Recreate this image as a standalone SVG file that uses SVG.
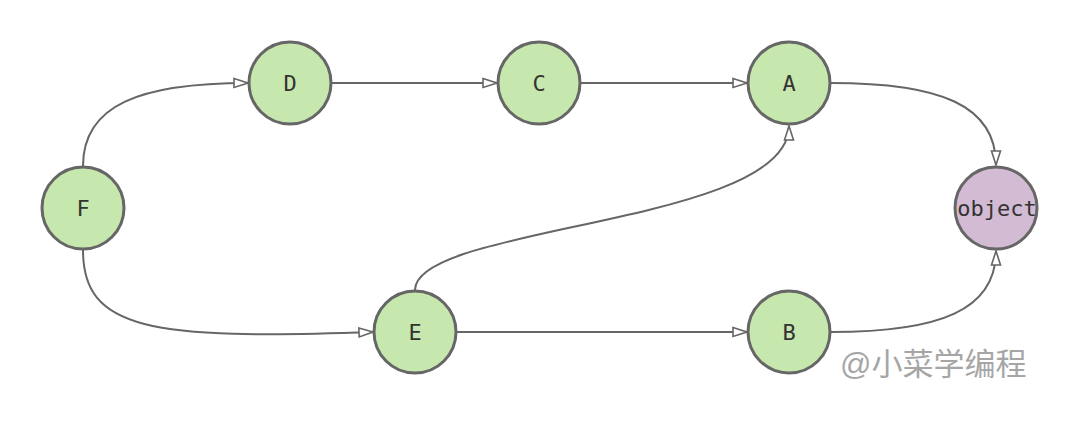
<svg xmlns="http://www.w3.org/2000/svg" width="1080" height="437" viewBox="0 0 1080 437">
<defs>
<marker id="arr" markerWidth="18" markerHeight="12" refX="16" refY="6" orient="auto" markerUnits="userSpaceOnUse">
<path d="M2,1.5 L16,6 L2,10.5 Z" fill="#fff" stroke="#666" stroke-width="1.6"/>
</marker>
<style>
.n{stroke:#666;stroke-width:3}
.g{fill:#c6e7ae}
.p{fill:#d3bbd3}
.t{font-family:"DejaVu Sans Mono",monospace;font-size:22px;fill:#333;text-anchor:middle;dominant-baseline:central}
.e{fill:none;stroke:#666;stroke-width:2;marker-end:url(#arr)}
</style>
</defs>
<rect width="1080" height="437" fill="#fff"/>
<g id="edges">
<path class="e" d="M83,166 C83,105 140,83 248,83"/>
<path class="e" d="M332,83 L497,83"/>
<path class="e" d="M581,83 L747,83"/>
<path class="e" d="M831,83 C940,83 996,105 996,165"/>
<path class="e" d="M83,250 C83,330 150,340 373,332"/>
<path class="e" d="M415,290 C415,225 789,225 789,126"/>
<path class="e" d="M457,332 L747,332"/>
<path class="e" d="M831,332 C940,332 996,310 996,251"/>
</g>
<g id="F"><circle class="n g" cx="83" cy="208" r="41"/><text class="t" x="83" y="208">F</text></g>
<g id="D"><circle class="n g" cx="290" cy="83" r="41"/><text class="t" x="290" y="83">D</text></g>
<g id="C"><circle class="n g" cx="539" cy="83" r="41"/><text class="t" x="539" y="83">C</text></g>
<g id="A"><circle class="n g" cx="789" cy="83" r="41"/><text class="t" x="789" y="83">A</text></g>
<g id="E"><circle class="n g" cx="415" cy="332" r="41"/><text class="t" x="415" y="332">E</text></g>
<g id="B"><circle class="n g" cx="789" cy="332" r="41"/><text class="t" x="789" y="332">B</text></g>
<g id="object"><circle class="n p" cx="996" cy="208" r="41"/><text class="t" x="997" y="208" font-size="23">object</text></g>
<text x="840" y="375" font-family="'Liberation Sans','Noto Sans CJK SC',sans-serif" font-size="31" fill="#a6a6a6">@小菜学编程</text>
</svg>
